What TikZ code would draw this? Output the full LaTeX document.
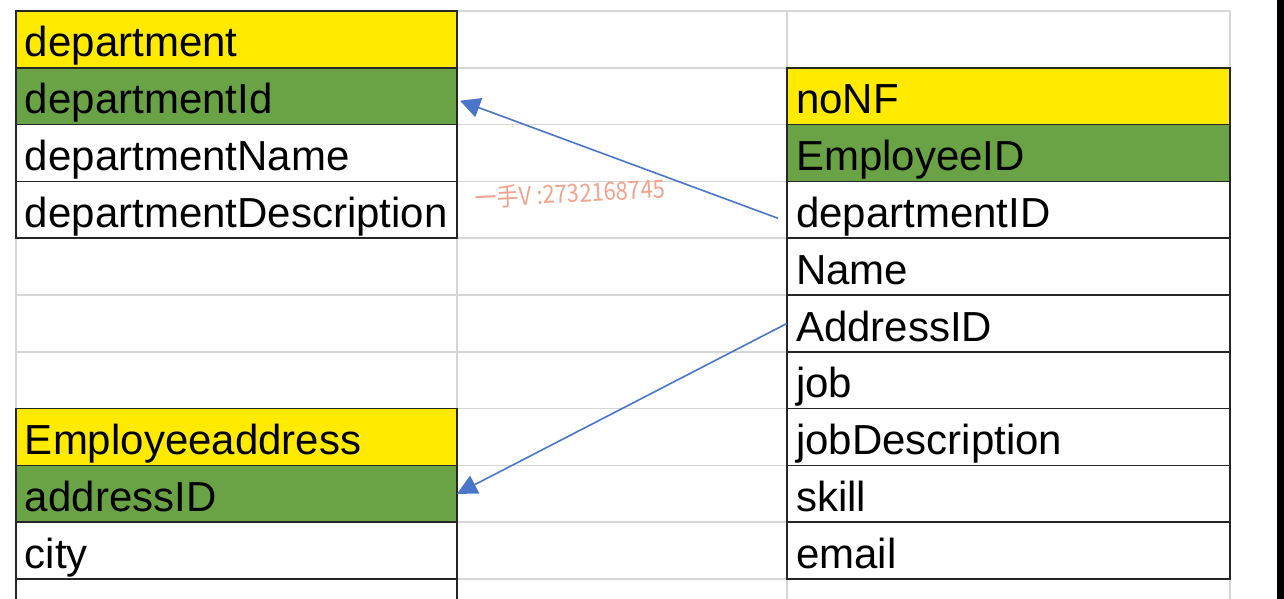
\documentclass[tikz,border=0pt]{standalone}
\usepackage{fontspec}
\setmainfont{Liberation Sans}
\newfontfamily\cjkfont{Noto Sans CJK SC}
\usepackage{tikz}
\usetikzlibrary{positioning,arrows.meta}
\definecolor{hdyellow}{HTML}{FFEA00}
\definecolor{keygreen}{HTML}{6AA345}
\definecolor{gridgray}{HTML}{D6D6D6}
\definecolor{linkblue}{HTML}{4A76C9}
\definecolor{markred}{HTML}{F2A38C}
\tikzstyle{cell} = [draw=black!85, line width=0.8pt, fill=white, rectangle, outer sep=0pt, inner xsep=4.5pt, inner ysep=0pt, text height=23pt, text depth=5.4pt, minimum height=28.4pt, text width=211.5pt, align=left, font=\fontsize{21}{24}\selectfont]
\tikzstyle{rcell} = [cell, text width=212.5pt]
\tikzstyle{headcell} = [fill=hdyellow]
\tikzstyle{keycell} = [fill=keygreen]
\tikzstyle{link} = [draw=linkblue, line width=0.8pt, -{Triangle[length=10pt,width=10pt]}]

\begin{document}
\begin{tikzpicture}[x=0.5pt, y=-0.5pt]
		\fill[white] (0,0) rectangle (1284,599);
		\useasboundingbox (0,0) rectangle (1284,599);
		\fill[black] (1277,0) rectangle (1284,599);
		
		% sheet grid
		\foreach \r in {0,...,10}
			\draw[gridgray, line width=0.8pt] (16,{11+56.8*\r}) -- (1230,{11+56.8*\r});
		\foreach \c in {16,457,787,1230}
			\draw[gridgray, line width=0.8pt] (\c,11) -- (\c,599);
		
		% department
		\node [cell, headcell, anchor=north west] (dept) at (16,11) {department};
		\node [cell, keycell, below=0pt of dept] (deptid) {departmentId};
		\node [cell, below=0pt of deptid] (deptname) {departmentName};
		\node [cell, below=0pt of deptname] (deptdesc) {departmentDescription};
		
		% Employeeaddress
		\node [cell, headcell, anchor=north west] (addr) at (16,408.6) {Employeeaddress};
		\node [cell, keycell, below=0pt of addr] (addrid) {addressID};
		\node [cell, below=0pt of addrid] (city) {city};
		\node [cell, below=0pt of city] (addrnext) {};
		
		% noNF
		\node [rcell, headcell, anchor=north west] (nonf) at (787,67.8) {noNF};
		\node [rcell, keycell, below=0pt of nonf] (nfemp) {EmployeeID};
		\node [rcell, below=0pt of nfemp] (nfdept) {departmentID};
		\node [rcell, below=0pt of nfdept] (nfname) {Name};
		\node [rcell, below=0pt of nfname] (nfaddr) {AddressID};
		\node [rcell, below=0pt of nfaddr] (nfjob) {job};
		\node [rcell, below=0pt of nfjob] (nfjobdesc) {jobDescription};
		\node [rcell, below=0pt of nfjobdesc] (nfskill) {skill};
		\node [rcell, below=0pt of nfskill] (nfemail) {email};
		
		\draw [link] ([xshift=-4.5pt,yshift=-4.25pt]nfdept.west) -- ([xshift=1.5pt,yshift=-2.25pt]deptid.east);
		\draw [link] (nfaddr.west) -- (addrid.east);
		
		\node [text=markred, rotate=3, xscale=0.88, font=\fontsize{12.5}{13}\selectfont] (watermark) at (570,193) {\cjkfont 一手V\hspace{3pt}:2732168745};
	\end{tikzpicture}
\end{document}
